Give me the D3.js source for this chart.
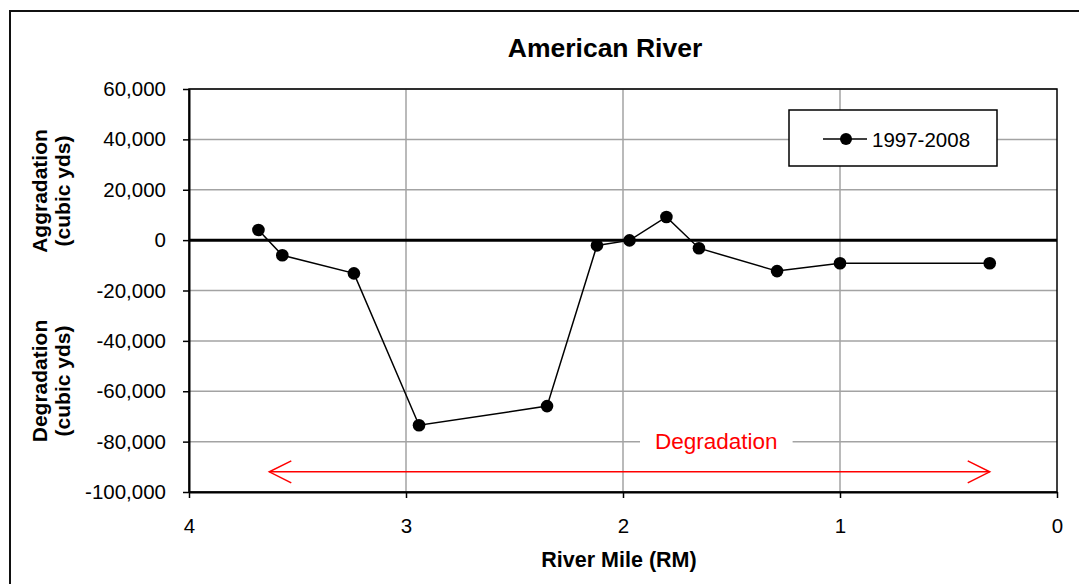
<!DOCTYPE html>
<html>
<head>
<meta charset="utf-8">
<script src="https://cdn.jsdelivr.net/npm/d3@7.9.0/dist/d3.min.js"></script>
<style>
  body { margin: 0; background: #fff; }
  svg { display: block; font-family: "Liberation Sans", Arial, sans-serif; }
</style>
</head>
<body>
<div id="chart"></div>
<script>
// data
const riverMile = [3.68, 3.57, 3.24, 2.94, 2.35, 2.12, 1.97, 1.80, 1.65, 1.29, 1.00, 0.31];
const volume    = [4000, -6000, -13200, -73500, -65900, -2100, -100, 9200, -3200, -12300, -9200, -9200];
const seriesName = '1997-2008';

const xTicks = [4, 3, 2, 1, 0];
const yTicks = [-100000, -80000, -60000, -40000, -20000, 0, 20000, 40000, 60000];

// annotation: arrow span (river mile) and label
const arrowFrom = 3.63, arrowTo = 0.31, arrowLevel = -92000;
const noteText = 'Degradation', noteMile = 1.57, noteLevel = -80000;

const width = 1079, height = 584;
const margin = { top: 89, right: 22, bottom: 92, left: 189 };

const svg = d3.select('#chart').append('svg')
  .attr('width', width)
  .attr('height', height);

// outer chart frame
svg.append('rect')
  .attr('x', 10).attr('y', 11)
  .attr('width', width + 20).attr('height', height + 20)
  .attr('fill', '#fff')
  .attr('stroke', '#111')
  .attr('stroke-width', 2);

const x = d3.scaleLinear()
  .domain([4, 0])
  .range([margin.left, width - margin.right]);

const y = d3.scaleLinear()
  .domain([-100000, 60000])
  .range([height - margin.bottom, margin.top]);

// plain hyphen for negatives, like the original
const fmt = d => d3.format(',')(d).replace('\u2212', '-');
const gridColor = '#a3a3a3';

// gridlines
svg.append('g')
  .selectAll('line.h')
  .data(yTicks)
  .join('line')
    .attr('x1', x(4)).attr('x2', x(0))
    .attr('y1', d => y(d)).attr('y2', d => y(d))
    .attr('stroke', gridColor)
    .attr('stroke-width', 1.5);

svg.append('g')
  .selectAll('line.v')
  .data(xTicks.filter(d => d !== 4 && d !== 0))
  .join('line')
    .attr('x1', d => x(d)).attr('x2', d => x(d))
    .attr('y1', y(60000)).attr('y2', y(-100000))
    .attr('stroke', gridColor)
    .attr('stroke-width', 1.5);

// plot border
svg.append('rect')
  .attr('x', x(4)).attr('y', y(60000))
  .attr('width', x(0) - x(4))
  .attr('height', y(-100000) - y(60000))
  .attr('fill', 'none')
  .attr('stroke', '#000')
  .attr('stroke-width', 1.5);

// zero line
svg.append('line')
  .attr('x1', x(4)).attr('x2', x(0))
  .attr('y1', y(0)).attr('y2', y(0))
  .attr('stroke', '#000')
  .attr('stroke-width', 3);

// axes
const yAxis = svg.append('g')
  .attr('transform', `translate(${x(4)},0)`)
  .call(d3.axisLeft(y).tickValues(yTicks).tickFormat(fmt).tickSize(6).tickSizeOuter(0).tickPadding(17));

const xAxis = svg.append('g')
  .attr('transform', `translate(0,${y(-100000)})`)
  .call(d3.axisBottom(x).tickValues(xTicks).tickFormat(d3.format('d')).tickSize(6).tickSizeOuter(0).tickPadding(20));

[yAxis, xAxis].forEach(a => {
  a.select('.domain').attr('stroke', '#000').attr('stroke-width', 2);
  a.selectAll('.tick line').attr('stroke', '#000').attr('stroke-width', 1.5);
  a.selectAll('.tick text')
    .attr('fill', '#000')
    .style('font-size', '20.5px')
    .style('font-family', '"Liberation Sans", Arial, sans-serif');
});

// series
const points = riverMile.map((m, i) => ({ mile: m, value: volume[i] }));

svg.append('path')
  .datum(points)
  .attr('fill', 'none')
  .attr('stroke', '#000')
  .attr('stroke-width', 1.5)
  .attr('d', d3.line().x(d => x(d.mile)).y(d => y(d.value)));

svg.append('g')
  .selectAll('circle')
  .data(points)
  .join('circle')
    .attr('cx', d => x(d.mile))
    .attr('cy', d => y(d.value))
    .attr('r', 6.3)
    .attr('fill', '#000');

// degradation arrow
const red = '#ff0000';
const ay = y(arrowLevel);
const ax1 = x(arrowFrom), ax2 = x(arrowTo);
const arrow = svg.append('g').attr('stroke', red).attr('stroke-width', 1.5).attr('fill', 'none');
arrow.append('line').attr('x1', ax1).attr('x2', ax2).attr('y1', ay).attr('y2', ay);
arrow.append('path').attr('d', `M${ax1 + 22},${ay - 11}L${ax1},${ay}L${ax1 + 22},${ay + 11}`);
arrow.append('path').attr('d', `M${ax2 - 22},${ay - 11}L${ax2},${ay}L${ax2 - 22},${ay + 11}`);

// degradation label with white backing over the gridline
const noteBg = svg.append('rect').attr('fill', '#fff');
const note = svg.append('text')
  .attr('x', x(noteMile))
  .attr('y', y(noteLevel) + 7)
  .attr('text-anchor', 'middle')
  .attr('fill', red)
  .style('font-size', '22.5px')
  .text(noteText);
const nb = note.node().getBBox();
noteBg.attr('x', nb.x - 15).attr('y', nb.y).attr('width', nb.width + 30).attr('height', nb.height);

// legend
const legend = svg.append('g').attr('transform', 'translate(789,110)');
legend.append('rect')
  .attr('width', 208).attr('height', 56)
  .attr('fill', '#fff')
  .attr('stroke', '#000')
  .attr('stroke-width', 1.5);
legend.append('line')
  .attr('x1', 34).attr('x2', 78).attr('y1', 29).attr('y2', 29)
  .attr('stroke', '#000').attr('stroke-width', 1.5);
legend.append('circle').attr('cx', 57).attr('cy', 29).attr('r', 6).attr('fill', '#000');
legend.append('text')
  .attr('x', 83).attr('y', 36.5)
  .style('font-size', '20.5px')
  .text(seriesName);

// title
svg.append('text')
  .attr('x', 605).attr('y', 57)
  .attr('text-anchor', 'middle')
  .style('font-size', '26.5px')
  .style('font-weight', 'bold')
  .text('American River');

// x label
svg.append('text')
  .attr('x', 619).attr('y', 567)
  .attr('text-anchor', 'middle')
  .style('font-size', '21.5px')
  .style('font-weight', 'bold')
  .text('River Mile (RM)');

// y labels (two-line, rotated)
function yLabel(cy, lines) {
  const t = svg.append('text')
    .attr('transform', `translate(47,${cy}) rotate(-90)`)
    .attr('text-anchor', 'middle')
    .style('font-size', '21px')
    .style('font-weight', 'bold');
  lines.forEach((l, i) => t.append('tspan').attr('x', 0).attr('dy', i ? 23 : 0).text(l));
}
yLabel(191, ['Aggradation', '(cubic yds)']);
yLabel(381, ['Degradation', '(cubic yds)']);
</script>
</body>
</html>
